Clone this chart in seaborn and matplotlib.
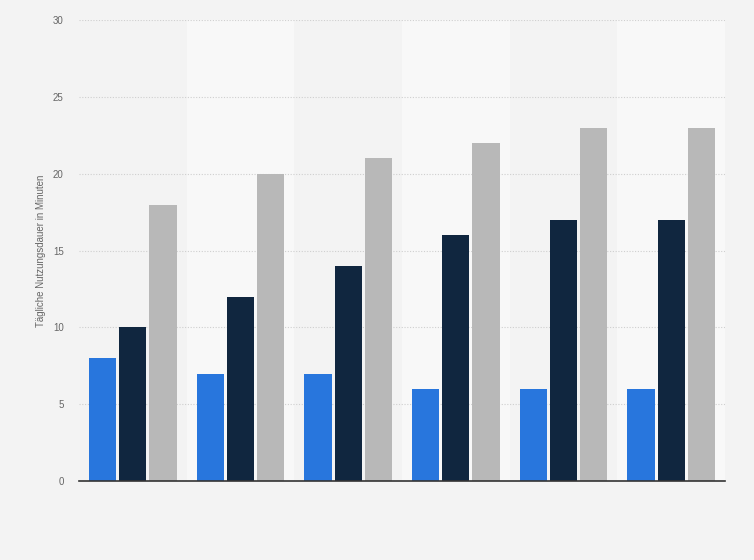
import pandas as pd
import matplotlib
matplotlib.use("Agg")
import matplotlib.pyplot as plt
import seaborn as sns

# Data (no category labels are shown)
groups = ["1", "2", "3", "4", "5", "6"]
series_names = ["A", "B", "C"]
series_a = [8, 7, 7, 6, 6, 6]
series_b = [10, 12, 14, 16, 17, 17]
series_c = [18, 20, 21, 22, 23, 23]
colors = ["#2876dd", "#10263f", "#b8b8b8"]

df = pd.DataFrame({
    "group": groups * 3,
    "series": [series_names[0]] * 6 + [series_names[1]] * 6 + [series_names[2]] * 6,
    "value": series_a + series_b + series_c,
})

sns.set_style("white")
plt.rcParams["font.family"] = ["Liberation Sans", "DejaVu Sans"]

fig = plt.figure(figsize=(7.54, 5.6), dpi=100)
fig.patch.set_facecolor("#f3f3f3")
ax = fig.add_axes([0.1048, 0.141, 0.8567, 0.823])
ax.set_facecolor("#f3f3f3")

# alternating column stripes
for i in range(len(groups)):
    if i % 2 == 1:
        ax.axvspan(i - 0.5, i + 0.5, color="#f8f8f8", zorder=0, lw=0)

sns.barplot(data=df, x="group", y="value", hue="series", palette=colors,
            width=0.84, gap=0.1, legend=False, ax=ax, zorder=3,
            edgecolor="none", saturation=1)

ax.set_xlim(-0.5, len(groups) - 0.5)
ax.set_ylim(0, 30)
ax.set_yticks([0, 5, 10, 15, 20, 25, 30])
ax.yaxis.grid(True, linestyle=(0, (1, 1.5)), color="#cfcfcf", linewidth=0.8, zorder=1)
ax.set_axisbelow(True)
ax.set_xticks([])
ax.set_xlabel("")
ax.set_ylabel("Tägliche Nutzungsdauer in Minuten", fontsize=7, color="#666666", labelpad=5)
ax.tick_params(axis="y", length=0, labelsize=7, labelcolor="#666666", pad=11)
for s in ["top", "right", "left"]:
    ax.spines[s].set_visible(False)
ax.spines["bottom"].set_color("#333333")
ax.spines["bottom"].set_linewidth(1.2)
ax.spines["bottom"].set_zorder(5)

fig.savefig("out.png", dpi=100, facecolor=fig.get_facecolor())
